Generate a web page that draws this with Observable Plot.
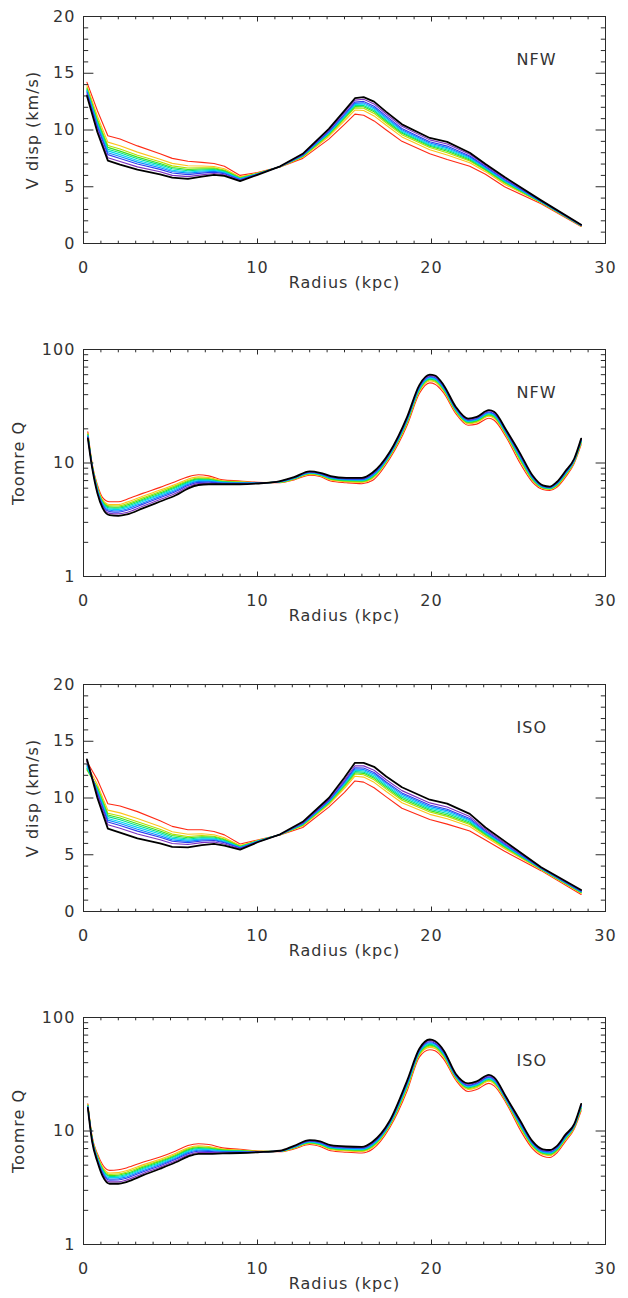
<!DOCTYPE html>
<html><head><meta charset="utf-8">
<script src="https://cdn.jsdelivr.net/npm/d3@7"></script>
<script src="https://cdn.jsdelivr.net/npm/@observablehq/plot@0.6"></script>
<style>
body{margin:0;background:#fff;}
#root{position:relative;width:628px;height:1298px;background:#fff;}
.panel{position:absolute;left:0;}
.panel text{letter-spacing:1px;}
</style></head><body><div id="root"></div>
<script>
// line colours, ordered black -> red
const seriesColors = ["#000000","#7b2fbe","#2f3cf0","#0a8cff","#00d4f0","#00e08a","#3ee01e","#b4e000","#ffc21a","#ff2a14"];

const xTicks = [0,10,20,30];
const xMinorTicks = [1,2,3,4,5,6,7,8,9,11,12,13,14,15,16,17,18,19,21,22,23,24,25,26,27,28,29];
const vTicks = [0,5,10,15,20];
const vMinorTicks = [1,2,3,4,6,7,8,9,11,12,13,14,16,17,18,19];
const qTicks = [1,10,100];
const qMinorTicks = [2,3,4,5,6,7,8,9,20,30,40,50,60,70,80,90];

const radiusV = [0.2,0.8,1.4,2.1,3.1,4.4,5.1,6.0,6.8,7.5,8.1,9.0,10.0,11.3,12.6,14.1,15.0,15.6,16.1,16.7,17.4,18.3,19.9,20.9,22.2,23.1,24.2,26.3,28.6];
const radiusQ = [0.25,0.5,0.8,1.1,1.5,2.0,2.5,3.4,4.4,5.3,6.0,6.6,7.2,8.0,9.0,10.0,11.3,12.1,13.0,13.6,14.2,15.1,16.0,16.6,17.6,18.6,19.3,19.9,20.2,20.7,21.4,22.1,22.6,23.3,23.6,24.3,25.1,25.8,26.4,26.8,27.2,27.7,28.2,28.6];

// V disp, NFW (rows: black, purple, blue, dodger, cyan, teal, green, yellow-green, gold, red)
const vdispNFW = [
 [13.0,9.8,7.3,6.95,6.5,6.1,5.8,5.7,5.9,6.05,5.95,5.5,6.05,6.8,7.9,10.1,11.7,12.8,12.9,12.5,11.6,10.5,9.3,8.95,8.0,7.0,5.85,3.8,1.65],
 [13.14,10.03,7.56,7.22,6.75,6.32,6.0,5.89,6.05,6.17,6.05,5.56,6.07,6.79,7.85,9.99,11.56,12.63,12.71,12.3,11.41,10.32,9.13,8.76,7.86,6.89,5.75,3.76,1.63],
 [13.29,10.26,7.83,7.49,7.0,6.53,6.21,6.07,6.2,6.29,6.15,5.62,6.1,6.79,7.8,9.88,11.41,12.46,12.52,12.09,11.22,10.14,8.96,8.58,7.71,6.78,5.65,3.73,1.61],
 [13.38,10.41,8.0,7.67,7.17,6.68,6.34,6.2,6.3,6.37,6.22,5.66,6.11,6.78,7.77,9.81,11.32,12.35,12.39,11.96,11.09,10.02,8.85,8.45,7.62,6.71,5.58,3.7,1.6],
 [13.47,10.54,8.16,7.83,7.32,6.8,6.46,6.3,6.39,6.44,6.28,5.7,6.13,6.78,7.74,9.75,11.23,12.25,12.28,11.84,10.98,9.92,8.75,8.35,7.53,6.65,5.52,3.68,1.59],
 [13.55,10.67,8.31,7.99,7.47,6.93,6.58,6.41,6.48,6.51,6.34,5.73,6.14,6.78,7.72,9.69,11.15,12.16,12.16,11.72,10.86,9.81,8.66,8.24,7.45,6.59,5.46,3.66,1.58],
 [13.64,10.81,8.47,8.14,7.61,7.05,6.7,6.52,6.56,6.58,6.4,5.77,6.16,6.77,7.69,9.62,11.06,12.06,12.05,11.6,10.75,9.71,8.56,8.13,7.36,6.52,5.4,3.64,1.57],
 [13.73,10.96,8.64,8.32,7.78,7.2,6.84,6.65,6.66,6.66,6.47,5.81,6.17,6.77,7.66,9.55,10.97,11.95,11.92,11.46,10.62,9.59,8.45,8.0,7.27,6.45,5.33,3.62,1.56],
 [13.89,11.21,8.93,8.62,8.05,7.43,7.06,6.85,6.83,6.79,6.58,5.87,6.2,6.76,7.6,9.43,10.81,11.76,11.72,11.24,10.42,9.39,8.26,7.8,7.11,6.33,5.22,3.58,1.54],
 [14.2,11.7,9.5,9.2,8.6,7.9,7.5,7.25,7.15,7.05,6.8,6.0,6.25,6.75,7.5,9.2,10.5,11.4,11.3,10.8,10.0,9.0,7.9,7.4,6.8,6.1,5.0,3.5,1.5]
];

// Toomre Q, NFW
const toomreNFW = [
 [16.5,9.0,5.4,4.0,3.47,3.42,3.52,3.98,4.58,5.2,5.95,6.4,6.5,6.5,6.5,6.6,6.94,7.5,8.44,8.2,7.68,7.4,7.4,8.2,12.5,25.5,48.5,60,59,48.5,31.2,24.6,25.5,29.2,28.3,19.4,12.1,7.8,6.35,6.2,6.8,8.5,10.9,16.4],
 [16.78,9.1,5.52,4.11,3.6,3.56,3.67,4.15,4.76,5.4,6.14,6.58,6.64,6.57,6.55,6.62,6.91,7.45,8.36,8.13,7.59,7.32,7.3,8.06,12.3,25.0,47.6,58.9,57.9,47.7,30.7,24.2,25.1,28.7,27.8,19.1,11.8,7.68,6.29,6.14,6.72,8.38,10.78,16.2],
 [17.05,9.19,5.64,4.23,3.73,3.69,3.83,4.32,4.94,5.6,6.33,6.75,6.79,6.64,6.61,6.64,6.88,7.4,8.29,8.06,7.5,7.23,7.2,7.91,12.1,24.5,46.7,57.8,56.7,46.8,30.2,23.9,24.7,28.1,27.2,18.8,11.6,7.56,6.23,6.09,6.63,8.26,10.66,15.9],
 [17.26,9.26,5.73,4.31,3.83,3.79,3.94,4.45,5.08,5.75,6.48,6.89,6.9,6.7,6.65,6.66,6.86,7.37,8.23,8.0,7.44,7.17,7.13,7.8,12.0,24.2,46.0,57.0,55.9,46.2,29.9,23.6,24.3,27.7,26.8,18.5,11.4,7.47,6.19,6.05,6.57,8.17,10.57,15.8],
 [17.47,9.34,5.82,4.4,3.92,3.89,4.06,4.58,5.22,5.9,6.62,7.02,7.0,6.75,6.69,6.67,6.84,7.33,8.17,7.95,7.37,7.11,7.05,7.7,11.8,23.8,45.3,56.1,55.0,45.6,29.5,23.3,24.0,27.4,26.4,18.3,11.2,7.38,6.14,6.01,6.51,8.08,10.48,15.6],
 [17.65,9.4,5.9,4.48,4.01,3.99,4.16,4.69,5.34,6.04,6.75,7.14,7.1,6.8,6.73,6.69,6.82,7.3,8.12,7.9,7.31,7.05,6.99,7.6,11.7,23.5,44.7,55.4,54.3,45.0,29.2,23.1,23.8,27.0,26.1,18.1,11.0,7.3,6.1,5.97,6.45,8.0,10.4,15.5],
 [17.83,9.46,5.98,4.55,4.1,4.08,4.26,4.8,5.46,6.17,6.88,7.25,7.2,6.85,6.76,6.7,6.8,7.27,8.07,7.85,7.25,6.99,6.92,7.5,11.6,23.2,44.1,54.7,53.5,44.4,28.9,22.8,23.5,26.6,25.7,17.9,10.8,7.22,6.06,5.93,6.39,7.92,10.32,15.3],
 [18.04,9.54,6.07,4.64,4.19,4.18,4.38,4.93,5.6,6.32,7.02,7.38,7.3,6.9,6.8,6.71,6.78,7.23,8.01,7.8,7.18,6.93,6.84,7.4,11.4,22.8,43.4,53.8,52.6,43.8,28.5,22.5,23.2,26.3,25.3,17.7,10.6,7.13,6.02,5.89,6.33,7.83,10.23,15.1],
 [18.29,9.62,6.18,4.74,4.31,4.3,4.52,5.09,5.77,6.5,7.2,7.55,7.44,6.97,6.85,6.73,6.75,7.19,7.94,7.73,7.1,6.85,6.75,7.26,11.3,22.4,42.6,52.8,51.6,43.0,28.1,22.2,22.8,25.8,24.8,17.4,10.4,7.02,5.96,5.84,6.25,7.72,10.12,15.0],
 [18.8,9.8,6.4,4.95,4.55,4.55,4.8,5.4,6.1,6.87,7.55,7.87,7.7,7.1,6.95,6.77,6.7,7.1,7.8,7.6,6.94,6.7,6.57,7.0,10.9,21.5,40.9,50.8,49.5,41.5,27.2,21.5,22,24.8,23.8,16.8,9.9,6.8,5.85,5.74,6.1,7.5,9.9,14.5]
];

// V disp, ISO
const vdispISO = [
 [13.4,10.0,7.3,6.95,6.45,6.0,5.7,5.65,5.85,5.95,5.8,5.45,6.1,6.8,7.9,10.0,11.8,13.1,13.1,12.75,11.9,10.95,9.85,9.5,8.6,7.4,6.2,3.9,1.9],
 [13.35,10.26,7.65,7.33,6.83,6.32,5.99,5.9,6.07,6.13,5.95,5.53,6.13,6.79,7.82,9.87,11.59,12.84,12.83,12.45,11.61,10.65,9.57,9.21,8.36,7.22,6.06,3.85,1.84],
 [13.2,10.43,7.89,7.58,7.08,6.54,6.19,6.07,6.21,6.25,6.06,5.59,6.15,6.79,7.77,9.78,11.45,12.67,12.64,12.25,11.41,10.45,9.38,9.01,8.2,7.1,5.96,3.82,1.79],
 [12.95,10.54,8.05,7.75,7.25,6.68,6.31,6.18,6.31,6.32,6.12,5.62,6.17,6.78,7.73,9.73,11.36,12.56,12.52,12.12,11.29,10.32,9.26,8.89,8.09,7.03,5.89,3.8,1.76],
 [12.8,10.66,8.2,7.91,7.41,6.82,6.44,6.29,6.4,6.4,6.19,5.66,6.18,6.78,7.7,9.67,11.27,12.44,12.4,11.99,11.16,10.19,9.13,8.76,7.99,6.95,5.83,3.78,1.74],
 [12.65,10.77,8.36,8.08,7.58,6.96,6.56,6.39,6.5,6.48,6.26,5.69,6.2,6.78,7.66,9.62,11.18,12.33,12.28,11.86,11.04,10.06,9.01,8.64,7.88,6.87,5.77,3.76,1.71],
 [12.55,10.88,8.51,8.24,7.74,7.1,6.69,6.5,6.59,6.56,6.32,5.73,6.21,6.77,7.63,9.56,11.09,12.22,12.17,11.73,10.91,9.93,8.89,8.51,7.78,6.8,5.71,3.74,1.68],
 [12.45,10.99,8.66,8.41,7.91,7.24,6.82,6.61,6.69,6.63,6.39,5.76,6.22,6.77,7.59,9.5,10.99,12.11,12.05,11.6,10.78,9.8,8.77,8.38,7.67,6.72,5.64,3.71,1.65],
 [12.9,11.18,8.93,8.69,8.19,7.48,7.03,6.8,6.85,6.76,6.5,5.82,6.25,6.76,7.53,9.41,10.84,11.92,11.84,11.38,10.57,9.58,8.56,8.17,7.49,6.59,5.53,3.68,1.6],
 [13.2,11.6,9.5,9.3,8.8,8.0,7.5,7.2,7.2,7.05,6.75,5.95,6.3,6.75,7.4,9.2,10.5,11.5,11.4,10.9,10.1,9.1,8.1,7.7,7.1,6.3,5.3,3.6,1.5]
];

// Toomre Q, ISO
const toomreISO = [
 [16.0,8.0,5.35,4.0,3.43,3.43,3.57,4.06,4.65,5.3,5.95,6.3,6.3,6.35,6.4,6.5,6.7,7.4,8.3,8.1,7.5,7.3,7.25,8.0,12.3,27.8,53,64,62,51.3,31.8,26.3,27.4,31.2,29.7,19.8,12.3,8.15,6.9,6.8,7.36,9.3,11.5,17.3],
 [16.17,8.11,5.46,4.13,3.56,3.56,3.71,4.21,4.8,5.46,6.13,6.47,6.46,6.44,6.46,6.52,6.68,7.35,8.22,8.0,7.4,7.2,7.15,7.87,12.1,27.2,52.0,62.6,60.7,50.3,31.3,25.8,26.9,30.6,29.1,19.5,12.1,8.01,6.79,6.69,7.24,9.16,11.37,17.0],
 [16.34,8.22,5.58,4.25,3.69,3.7,3.85,4.36,4.95,5.63,6.31,6.64,6.61,6.53,6.52,6.54,6.67,7.29,8.13,7.91,7.31,7.11,7.05,7.74,11.9,26.6,51.0,61.1,59.4,49.3,30.9,25.3,26.4,30.0,28.6,19.2,11.8,7.87,6.68,6.57,7.13,9.01,11.24,16.8],
 [16.46,8.3,5.66,4.35,3.78,3.8,3.96,4.47,5.06,5.75,6.45,6.77,6.73,6.6,6.57,6.56,6.65,7.25,8.07,7.84,7.24,7.04,6.97,7.64,11.8,26.1,50.3,60.0,58.4,48.6,30.5,25.0,26.0,29.6,28.1,19.0,11.6,7.77,6.6,6.49,7.04,8.9,11.14,16.6],
 [16.59,8.38,5.75,4.44,3.88,3.9,4.07,4.58,5.18,5.88,6.58,6.9,6.85,6.67,6.61,6.57,6.64,7.21,8.01,7.76,7.16,6.96,6.89,7.54,11.6,25.6,49.6,59.0,57.4,47.8,30.2,24.6,25.6,29.1,27.7,18.8,11.4,7.67,6.52,6.4,6.96,8.8,11.04,16.4],
 [16.7,8.45,5.83,4.53,3.97,3.99,4.16,4.68,5.28,5.99,6.7,7.02,6.95,6.73,6.65,6.59,6.63,7.18,7.95,7.7,7.1,6.9,6.83,7.45,11.5,25.2,48.9,58.0,56.5,47.2,29.9,24.3,25.3,28.8,27.4,18.7,11.3,7.58,6.45,6.33,6.88,8.7,10.95,16.2],
 [16.81,8.52,5.9,4.61,4.05,4.08,4.25,4.78,5.38,6.09,6.82,7.13,7.05,6.79,6.69,6.6,6.62,7.14,7.89,7.64,7.04,6.84,6.76,7.36,11.4,24.8,48.2,57.0,55.6,46.5,29.6,24.0,25.0,28.4,27.0,18.5,11.1,7.48,6.38,6.25,6.8,8.6,10.86,16.0],
 [16.94,8.6,5.99,4.7,4.15,4.18,4.36,4.89,5.49,6.22,6.96,7.26,7.17,6.85,6.74,6.61,6.61,7.1,7.83,7.56,6.96,6.76,6.68,7.26,11.2,24.3,47.5,56.0,54.6,45.7,29.3,23.6,24.6,27.9,26.6,18.3,10.9,7.38,6.3,6.16,6.72,8.5,10.76,15.8],
 [17.09,8.7,6.09,4.82,4.26,4.3,4.49,5.03,5.63,6.37,7.12,7.42,7.31,6.94,6.79,6.63,6.59,7.05,7.75,7.48,6.88,6.68,6.59,7.14,11.1,23.7,46.6,54.6,53.4,44.8,28.8,23.2,24.1,27.4,26.0,18.0,10.7,7.25,6.2,6.06,6.61,8.36,10.64,15.6],
 [17.4,8.9,6.3,5.05,4.5,4.55,4.75,5.3,5.9,6.67,7.45,7.73,7.6,7.1,6.9,6.67,6.56,6.95,7.6,7.3,6.7,6.5,6.4,6.9,10.7,22.6,44.8,52,51,43,28,22.3,23.2,26.3,25,17.5,10.2,7.0,6.0,5.85,6.4,8.1,10.4,15.1]
];

const panelSpecs = [
  {rows: vdispNFW, radius: radiusV, kind: "v", model: "NFW", top: 0},
  {rows: toomreNFW, radius: radiusQ, kind: "q", model: "NFW", top: 333},
  {rows: vdispISO, radius: radiusV, kind: "v", model: "ISO", top: 668},
  {rows: toomreISO, radius: radiusQ, kind: "q", model: "ISO", top: 1001}
];

const FONT = "DejaVu Sans";
const INK = "#2a2a2a";
const TXT = "#333";
const root = document.getElementById("root");

for (const p of panelSpecs) {
  const isV = p.kind === "v";
  const lines = [];
  for (let k = p.rows.length - 1; k >= 0; k--) {
    const data = p.radius.map((r, i) => ({r, v: p.rows[k][i]})).filter(d => d.v != null);
    lines.push(Plot.line(data, {
      x: "r", y: "v", stroke: seriesColors[k],
      strokeWidth: k === 0 ? 1.8 : 1.1,
      curve: isV ? "linear" : "monotone-x"
    }));
  }
  const yMajor = isV ? vTicks : qTicks;
  const yMinor = isV ? vMinorTicks : qMinorTicks;
  const blank = () => "";
  const chart = Plot.plot({
    width: 628, height: 333,
    marginLeft: 83, marginRight: 23, marginTop: 16, marginBottom: 90,
    style: {fontFamily: FONT, fontSize: "16px", background: "#fff", color: TXT},
    x: {domain: [0, 30]},
    y: isV ? {domain: [0, 20]} : {type: "log", domain: [1, 100]},
    marks: [
      ...lines,
      Plot.frame({stroke: INK, strokeWidth: 1}),
      Plot.axisX(xTicks, {anchor: "bottom", tickSize: -4.5, tickPadding: 23, tickFormat: d => String(d), label: null, fontSize: 16, color: INK, fill: TXT}),
      Plot.axisX(xMinorTicks, {anchor: "bottom", tickSize: -2.3, tickFormat: blank, label: null, color: INK}),
      Plot.axisX(xTicks, {anchor: "top", tickSize: -4.5, tickFormat: blank, label: null, color: INK}),
      Plot.axisX(xMinorTicks, {anchor: "top", tickSize: -2.3, tickFormat: blank, label: null, color: INK}),
      Plot.axisY(yMajor, {anchor: "left", tickSize: -10.4, tickPadding: 18.5, tickFormat: d => String(d), label: null, fontSize: 16, color: INK, fill: TXT}),
      Plot.axisY(yMinor, {anchor: "left", tickSize: -5.2, tickFormat: blank, label: null, color: INK}),
      Plot.axisY(yMajor, {anchor: "right", tickSize: -10.4, tickFormat: blank, label: null, color: INK}),
      Plot.axisY(yMinor, {anchor: "right", tickSize: -5.2, tickFormat: blank, label: null, color: INK}),
      Plot.text(["Radius (kpc)"], {frameAnchor: "bottom", textAnchor: "middle", dy: 44, fontSize: 16, fill: TXT}),
      Plot.text([isV ? "V disp (km/s)" : "Toomre Q"], {frameAnchor: "left", textAnchor: "middle", dx: isV ? -51 : -65, rotate: -90, fontSize: 16, fill: TXT}),
      Plot.text([p.model], {frameAnchor: "top-left", dx: 433, dy: 37, textAnchor: "start", fontSize: 16, fill: TXT})
    ]
  });
  const holder = document.createElement("div");
  holder.className = "panel";
  holder.style.top = p.top + "px";
  holder.appendChild(chart);
  root.appendChild(holder);
}
</script></body></html>
